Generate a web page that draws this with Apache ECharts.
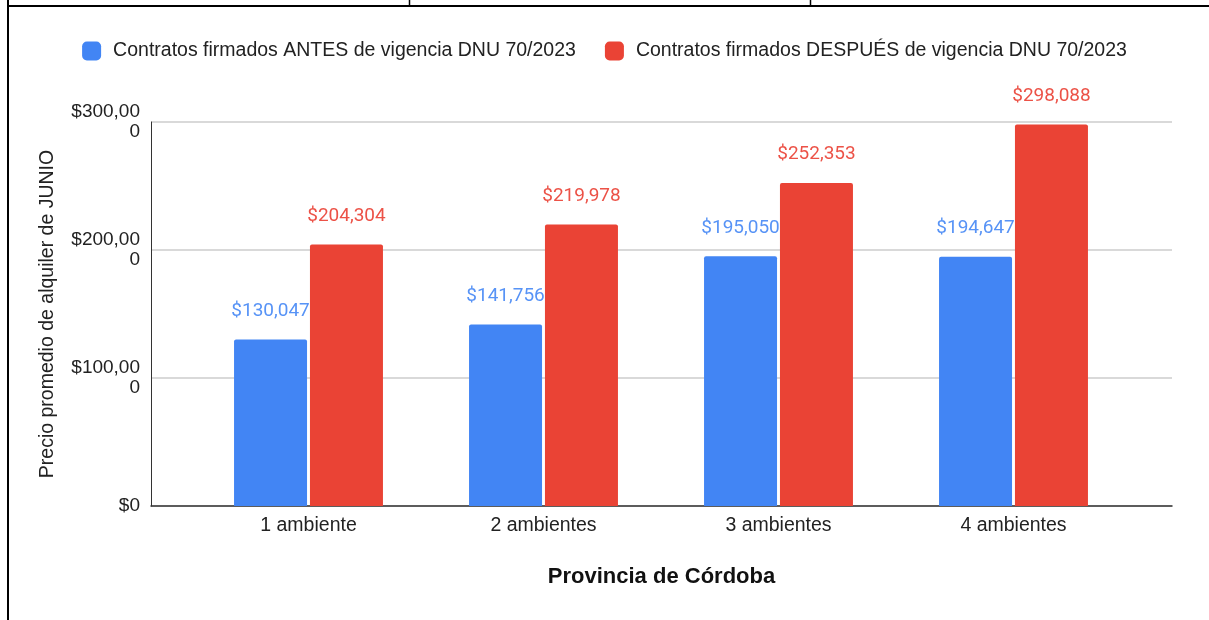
<!DOCTYPE html>
<html>
<head>
<meta charset="utf-8">
<script src="https://cdn.jsdelivr.net/npm/echarts@6/dist/echarts.min.js"></script>
<style>
html,body{margin:0;padding:0;background:#fff;}
#chart{width:1209px;height:620px;}
</style>
</head>
<body>
<div id="chart"></div>
<script>
const categories = ['1 ambiente', '2 ambientes', '3 ambientes', '4 ambientes'];
const seriesNames = ['Contratos firmados ANTES de vigencia DNU 70/2023', 'Contratos firmados DESPUÉS de vigencia DNU 70/2023'];
const antes = [130047, 141756, 195050, 194647];
const despues = [204304, 219978, 252353, 298088];
const yTickLabels = {0: '$0', 100000: '$100,00\n0', 200000: '$200,00\n0', 300000: '$300,00\n0'};
const xTitle = 'Provincia de Córdoba';
const yTitle = 'Precio promedio de alquiler de JUNIO';

const fmt = v => '$' + v.toLocaleString('en-US');
const chart = echarts.init(document.getElementById('chart'), null, {renderer: 'canvas'});
const baseFont = 'Arial, "Liberation Sans", sans-serif';

chart.setOption({
  animation: false,
  backgroundColor: '#fff',
  textStyle: {fontFamily: baseFont},
  legend: {
    top: 36, left: 'center',
    itemWidth: 19, itemHeight: 19, itemGap: 29,
    icon: 'roundRect',
    textStyle: {fontSize: 19.5, color: '#222', fontFamily: baseFont, padding: [0, 0, 0, 7]},
    data: seriesNames
  },
  grid: [
    {left: 151, right: 37, top: 122, bottom: 114},
    {left: 191, right: 78, top: 122, bottom: 114}
  ],
  xAxis: [
    {
      gridIndex: 0, type: 'category', data: categories,
      axisLine: {show: true, lineStyle: {color: '#333', width: 1.5}},
      axisTick: {show: false}, axisLabel: {show: false},
      name: xTitle, nameLocation: 'middle', nameGap: 60,
      nameTextStyle: {fontSize: 22, fontWeight: 'bold', color: '#111', fontFamily: baseFont}
    },
    {
      gridIndex: 1, type: 'category', data: categories,
      axisLine: {show: false}, axisTick: {show: false},
      axisLabel: {fontSize: 19.5, color: '#222', margin: 10, fontFamily: baseFont}
    }
  ],
  yAxis: [
    {
      gridIndex: 0, type: 'value', min: 0, max: 300000, interval: 100000,
      axisLine: {show: true, lineStyle: {color: '#333', width: 1}},
      axisTick: {show: false},
      splitLine: {lineStyle: {color: '#ccc', width: 1.5}},
      axisLabel: {fontSize: 19, color: '#222', margin: 11, lineHeight: 20, fontFamily: baseFont,
        formatter: v => yTickLabels[v]},
      name: yTitle, nameLocation: 'middle', nameGap: 93,
      nameTextStyle: {fontSize: 19.5, color: '#222', fontFamily: baseFont}
    },
    {
      gridIndex: 1, type: 'value', min: 0, max: 300000, interval: 100000, show: false
    }
  ],
  series: [
    {
      name: seriesNames[0], type: 'bar', xAxisIndex: 1, yAxisIndex: 1,
      data: antes, barWidth: 73, barGap: '4%',
      itemStyle: {color: '#4285F4', borderRadius: [2, 2, 0, 0]},
      label: {show: true, position: 'top', distance: 19, fontSize: 19, color: '#5793f6',
        fontFamily: 'Roboto, sans-serif', formatter: p => fmt(p.value)}
    },
    {
      name: seriesNames[1], type: 'bar', xAxisIndex: 1, yAxisIndex: 1,
      data: despues, barWidth: 73, barGap: '4%',
      itemStyle: {color: '#EA4335', borderRadius: [2, 2, 0, 0]},
      label: {show: true, position: 'top', distance: 19, fontSize: 19, color: '#ec5247',
        fontFamily: 'Roboto, sans-serif', formatter: p => fmt(p.value)}
    }
  ],
  graphic: [
    {type: 'line', shape: {x1: 8, y1: 6, x2: 1209, y2: 6}, style: {stroke: '#000', lineWidth: 2}},
    {type: 'line', shape: {x1: 8, y1: 0, x2: 8, y2: 620}, style: {stroke: '#000', lineWidth: 2}},
    {type: 'line', shape: {x1: 409.5, y1: 0, x2: 409.5, y2: 6}, style: {stroke: '#000', lineWidth: 1.5}},
    {type: 'line', shape: {x1: 810.5, y1: 0, x2: 810.5, y2: 6}, style: {stroke: '#000', lineWidth: 1.5}}
  ]
});
</script>
</body>
</html>
